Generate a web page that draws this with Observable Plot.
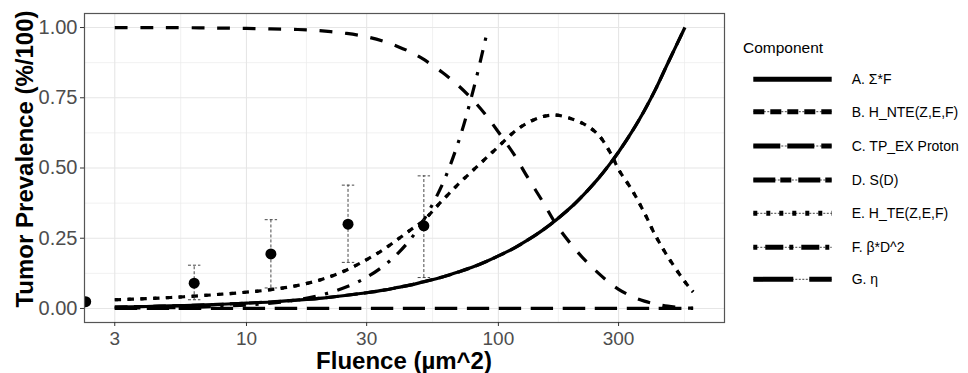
<!DOCTYPE html>
<html><head><meta charset="utf-8">
<script src="https://cdn.jsdelivr.net/npm/d3@7"></script>
<script src="https://cdn.jsdelivr.net/npm/@observablehq/plot@0.6"></script>
<style>
body{margin:0;background:#fff;font-family:"Liberation Sans",Arial,sans-serif;}
#wrap{position:relative;width:968px;height:373px;overflow:hidden;}
.atitle{position:absolute;font-weight:bold;font-size:24px;line-height:0.8;white-space:nowrap;color:#000;transform:translate(-50%,-50%);}
#ytitle{transform:translate(-50%,-50%) rotate(-90deg);}
</style></head><body><div id="wrap"></div>
<script>
// ---- data ----
const fluence = [3,4,5,6.5,8,10,12.5,16,20,25,30,35,40,45,50,60,70,80,90,100,115,130,150,170,200,225,250,280,300,340,380,420,470,550,593];
const sigmaF   = [0.005,0.007,0.009,0.012,0.015,0.019,0.023,0.030,0.037,0.047,0.056,0.065,0.075,0.084,0.094,0.112,0.131,0.149,0.168,0.187,0.214,0.242,0.279,0.316,0.371,0.418,0.464,0.520,0.557,0.631,0.705,0.779,0.872,1.000,null];
const hNTE     = [0.031,0.035,0.039,0.045,0.051,0.058,0.067,0.082,0.104,0.137,0.174,0.210,0.247,0.281,0.310,0.385,0.446,0.495,0.538,0.576,0.627,0.660,0.683,0.688,0.672,0.650,0.617,0.550,0.495,0.420,0.340,0.260,0.185,0.095,0.059];
const tpExProton = [0.005,0.007,0.009,0.012,0.015,0.019,0.023,0.030,0.037,0.047,0.056,0.065,0.075,0.084,0.094,0.112,0.131,0.149,0.168,0.187,0.214,0.242,0.279,0.316,0.371,0.418,0.464,0.520,0.557,0.631,0.705,0.779,0.872,1.000,null];
const survival = [1.000,1.000,1.000,0.999,0.998,0.997,0.995,0.993,0.988,0.979,0.967,0.951,0.932,0.912,0.889,0.840,0.790,0.738,0.684,0.628,0.550,0.470,0.380,0.298,0.215,0.164,0.125,0.087,0.068,0.042,0.026,0.016,0.008,0.002,0.001];
const hTE      = [0.031,0.035,0.039,0.045,0.051,0.058,0.067,0.082,0.104,0.137,0.174,0.210,0.247,0.281,0.310,0.385,0.446,0.495,0.538,0.576,0.627,0.660,0.683,0.688,0.672,0.650,0.617,0.550,0.495,0.420,0.340,0.260,0.185,0.095,0.059];
const betaD2   = [0.001,0.002,0.003,0.005,0.008,0.012,0.019,0.031,0.049,0.077,0.111,0.151,0.197,0.249,0.308,0.443,0.603,0.787,0.980,null,null,null,null,null,null,null,null,null,null,null,null,null,null,null,null];
const eta      = [0,0,0,0,0,0,0,0,0,0,0,0,0,0,0,0,0,0,0,0,0,0,0,0,0,0,0,0,0,0,0,0,0,0,0];

const componentNames = ["A. Σ*F","B. H_NTE(Z,E,F)","C. TP_EX Proton","D. S(D)","E. H_TE(Z,E,F)","F. β*D^2","G. η"];
const componentValues = [sigmaF,hNTE,tpExProton,survival,hTE,betaD2,eta];

const obsFluence = [2.3,6.2,12.5,25.3,50.6];
const obsPrev    = [0.024,0.090,0.194,0.300,0.294];
const obsLow     = [null,0.031,0.073,0.164,0.110];
const obsHigh    = [null,0.154,0.316,0.439,0.472];

const xMajor = [3,10,30,100,300];
const xMinor = [5.48,17.3,54.8,173,548];
const yMajor = [0,0.25,0.5,0.75,1];
const yMinor = [0.125,0.375,0.625,0.875];

const xTitle = "Fluence (µm^2)";
const yTitle = "Tumor Prevalence (%/100)";
const legendTitle = "Component";

// ---- styles ----
const lw = 3.2;
const dashes = ["none","6.4,6.4","12.8,6.4","12.8,12.8","3.2,9.6","3.2,9.6,12.8,9.6","22.4,9.6"];
const legendDashes = ["none","11,6","27,7","22,5,11,7","4,9","4,8,18,6","40,16"];

const lineMarks = componentNames.map((name,k) => {
  const rows = fluence.map((f,i)=>({f, v: componentValues[k][i]})).filter(d=>d.v!=null);
  return Plot.line(rows, {x:"f", y:"v", stroke:"black", strokeWidth:lw,
    strokeDasharray: dashes[k]==="none"?undefined:dashes[k], strokeLinecap:"butt", curve:"catmull-rom"});
});

const obs = obsFluence.map((f,i)=>({f, y:obsPrev[i], lo:obsLow[i], hi:obsHigh[i]}));
const bars = obs.filter(d=>d.lo!=null);
const cap = {draw(ctx){ ctx.moveTo(-6.2,0); ctx.lineTo(6.2,0); }};

const chart = Plot.plot({
  width: 968, height: 373,
  marginLeft: 84, marginRight: 244, marginTop: 13, marginBottom: 51,
  style: {fontFamily: "'Liberation Sans', Arial, sans-serif", background: "white"},
  x: {type: "log", domain: [2.275, 790]},
  y: {domain: [-0.05, 1.05]},
  marks: [
    Plot.gridX(xMinor, {stroke:"#ebebeb", strokeOpacity:1, strokeWidth:0.7}),
    Plot.gridY(yMinor, {stroke:"#ebebeb", strokeOpacity:1, strokeWidth:0.7}),
    Plot.gridX(xMajor, {stroke:"#e6e6e6", strokeOpacity:1, strokeWidth:1.1}),
    Plot.gridY(yMajor, {stroke:"#e6e6e6", strokeOpacity:1, strokeWidth:1.1}),
    ...lineMarks,
    Plot.ruleX(bars, {x:"f", y1:"lo", y2:"hi", stroke:"#333", strokeWidth:0.9, strokeDasharray:"3,2"}),
    Plot.dot(bars, {x:"f", y:"hi", symbol:cap, fill:"none", stroke:"#333", strokeWidth:0.9, strokeDasharray:"3,2"}),
    Plot.dot(bars, {x:"f", y:"lo", symbol:cap, fill:"none", stroke:"#333", strokeWidth:0.9, strokeDasharray:"3,2"}),
    Plot.dot(obs, {x:"f", y:"y", r:5.5, fill:"black", stroke:"none", clip:true}),
    Plot.frame({stroke:"#555", strokeWidth:1.2}),
    Plot.axisX(xMajor, {tickFormat:d=>String(d), tickSize:4, tickPadding:5, stroke:"#333", color:"#4d4d4d", fontSize:19, label:null}),
    Plot.axisY(yMajor, {tickFormat:d3.format(".2f"), tickSize:4, tickPadding:3, stroke:"#333", color:"#4d4d4d", fontSize:20, label:null})
  ]
});
const wrap = document.getElementById("wrap");
wrap.appendChild(chart);

// ---- axis titles ----
d3.select(wrap).append("div").attr("class","atitle").style("left","404px").style("top","361px").text(xTitle);
d3.select(wrap).append("div").attr("class","atitle").attr("id","ytitle").style("left","25px").style("top","159px").text(yTitle);

// ---- legend ----
const leg = d3.select(wrap).append("svg")
  .attr("width",238).attr("height",300)
  .style("position","absolute").style("left","730px").style("top","30px")
  .style("font-family","'Liberation Sans', Arial, sans-serif");
leg.append("text").attr("x",13).attr("y",22.7).attr("font-size",15.5).attr("fill","black").text(legendTitle);
const rowY = [49.3,81.7,116,150,183.3,217.3,249.3];
componentNames.forEach((name,k)=>{
  const y = rowY[k];
  if (k>0) leg.append("line").attr("x1",23.3).attr("x2",101.7).attr("y1",y).attr("y2",y)
    .attr("stroke","#444").attr("stroke-width",1).attr("stroke-dasharray","2,1.5");
  const ln = leg.append("line").attr("x1",23.3).attr("x2",101.7).attr("y1",y).attr("y2",y)
    .attr("stroke","black").attr("stroke-width",5);
  if (legendDashes[k]!=="none") ln.attr("stroke-dasharray",legendDashes[k]);
  leg.append("text").attr("x",121.7).attr("y",y).attr("dy","0.35em").attr("font-size",14).attr("fill","black").text(name);
});
</script></body></html>
